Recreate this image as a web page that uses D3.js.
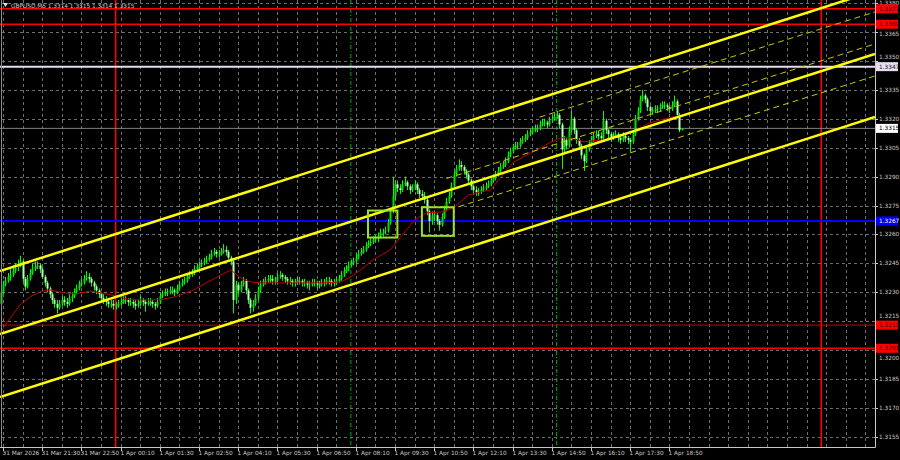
<!DOCTYPE html>
<html><head><meta charset="utf-8">
<script src="https://cdn.jsdelivr.net/npm/d3@7"></script>
<style>html,body{margin:0;padding:0;background:#000;}svg{display:block;}</style>
</head><body><svg id="c" width="900" height="460"></svg>
<script>
const symbolTitle = "GBPUSD,M5  1.3314 1.3315 1.3314 1.3315";
const firstBarTime = "2026-03-31 20:05";
const barMinutes = 5;
const firstOpen = 1.3224;
const closes = [1.3230,1.3234,1.3236,1.3238,1.3239,1.3241,1.3243,1.3244,1.3246,1.3237,
1.3233,1.3237,1.3240,1.3242,1.3243,1.3244,1.3242,1.3238,1.3235,1.3232,
1.3229,1.3226,1.3224,1.3222,1.3224,1.3226,1.3225,1.3224,1.3227,1.3228,
1.3230,1.3232,1.3234,1.3235,1.3237,1.3238,1.3237,1.3235,1.3233,1.3231,
1.3229,1.3227,1.3226,1.3225,1.3224,1.3224,1.3223,1.3223,1.3224,1.3225,
1.3226,1.3226,1.3225,1.3225,1.3224,1.3223,1.3224,1.3226,1.3225,1.3224,
1.3225,1.3225,1.3224,1.3223,1.3225,1.3228,1.3229,1.3230,1.3230,1.3231,
1.3231,1.3230,1.3232,1.3234,1.3235,1.3236,1.3238,1.3239,1.3240,1.3242,
1.3243,1.3244,1.3245,1.3246,1.3247,1.3248,1.3250,1.3251,1.3250,1.3250,
1.3251,1.3252,1.3251,1.3248,1.3246,1.3226,1.3234,1.3231,1.3234,1.3236,
1.3231,1.3226,1.3222,1.3224,1.3227,1.3231,1.3234,1.3235,1.3236,1.3237,
1.3237,1.3236,1.3236,1.3238,1.3239,1.3238,1.3237,1.3236,1.3236,1.3235,
1.3235,1.3236,1.3236,1.3235,1.3235,1.3234,1.3234,1.3235,1.3235,1.3234,
1.3234,1.3235,1.3235,1.3236,1.3236,1.3235,1.3235,1.3236,1.3237,1.3239,
1.3241,1.3242,1.3244,1.3245,1.3246,1.3248,1.3250,1.3251,1.3252,1.3254,
1.3255,1.3256,1.3257,1.3258,1.3259,1.3261,1.3261,1.3262,1.3266,1.3272,
1.3280,1.3286,1.3284,1.3283,1.3286,1.3287,1.3285,1.3283,1.3284,1.3286,
1.3283,1.3281,1.3280,1.3278,1.3272,1.3267,1.3270,1.3270,1.3267,1.3265,
1.3269,1.3273,1.3277,1.3280,1.3285,1.3291,1.3294,1.3296,1.3295,1.3293,
1.3291,1.3288,1.3285,1.3283,1.3282,1.3282,1.3283,1.3284,1.3285,1.3286,
1.3288,1.3289,1.3291,1.3293,1.3295,1.3296,1.3298,1.3301,1.3303,1.3305,
1.3306,1.3306,1.3308,1.3309,1.3310,1.3312,1.3313,1.3314,1.3315,1.3315,
1.3317,1.3318,1.3318,1.3317,1.3319,1.3320,1.3321,1.3322,1.3317,1.3304,
1.3309,1.3306,1.3314,1.3320,1.3314,1.3309,1.3306,1.3301,1.3298,1.3304,
1.3307,1.3309,1.3311,1.3312,1.3311,1.3310,1.3319,1.3314,1.3312,1.3310,
1.3311,1.3312,1.3310,1.3309,1.3311,1.3310,1.3309,1.3308,1.3312,1.3320,
1.3324,1.3330,1.3332,1.3330,1.3326,1.3324,1.3324,1.3325,1.3325,1.3326,
1.3327,1.3327,1.3326,1.3325,1.3327,1.3329,1.3322,1.3314,1.3315];
const highs = [1.3236,1.3236,1.3238,1.3240,1.3242,1.3244,1.3245,1.3247,1.3249,1.3247,
1.3238,1.3239,1.3242,1.3245,1.3246,1.3246,1.3245,1.3243,1.3239,1.3236,
1.3233,1.3230,1.3227,1.3226,1.3226,1.3228,1.3228,1.3227,1.3229,1.3230,
1.3232,1.3234,1.3236,1.3237,1.3239,1.3241,1.3240,1.3238,1.3236,1.3234,
1.3232,1.3230,1.3229,1.3228,1.3227,1.3226,1.3226,1.3225,1.3226,1.3227,
1.3228,1.3228,1.3227,1.3227,1.3226,1.3226,1.3226,1.3228,1.3227,1.3226,
1.3227,1.3227,1.3226,1.3225,1.3227,1.3230,1.3231,1.3232,1.3232,1.3233,
1.3233,1.3232,1.3234,1.3236,1.3237,1.3238,1.3240,1.3241,1.3242,1.3244,
1.3245,1.3246,1.3247,1.3248,1.3249,1.3250,1.3252,1.3253,1.3252,1.3252,
1.3253,1.3255,1.3254,1.3252,1.3249,1.3247,1.3236,1.3235,1.3236,1.3238,
1.3237,1.3232,1.3227,1.3226,1.3229,1.3233,1.3236,1.3237,1.3238,1.3239,
1.3239,1.3239,1.3238,1.3240,1.3241,1.3240,1.3239,1.3238,1.3238,1.3237,
1.3237,1.3238,1.3238,1.3237,1.3237,1.3236,1.3236,1.3237,1.3237,1.3236,
1.3236,1.3237,1.3237,1.3238,1.3238,1.3237,1.3237,1.3238,1.3239,1.3241,
1.3243,1.3244,1.3246,1.3247,1.3248,1.3250,1.3252,1.3253,1.3254,1.3256,
1.3257,1.3258,1.3259,1.3260,1.3261,1.3263,1.3263,1.3264,1.3268,1.3274,
1.3290,1.3288,1.3288,1.3286,1.3288,1.3290,1.3288,1.3286,1.3286,1.3288,
1.3287,1.3284,1.3283,1.3282,1.3279,1.3273,1.3272,1.3272,1.3271,1.3268,
1.3271,1.3275,1.3279,1.3282,1.3287,1.3293,1.3296,1.3299,1.3298,1.3296,
1.3294,1.3292,1.3289,1.3286,1.3285,1.3284,1.3285,1.3286,1.3287,1.3288,
1.3290,1.3291,1.3293,1.3295,1.3297,1.3298,1.3300,1.3303,1.3305,1.3307,
1.3308,1.3308,1.3310,1.3311,1.3312,1.3314,1.3315,1.3316,1.3317,1.3317,
1.3319,1.3320,1.3320,1.3319,1.3321,1.3322,1.3323,1.3324,1.3323,1.3318,
1.3311,1.3310,1.3316,1.3324,1.3321,1.3315,1.3310,1.3307,1.3302,1.3306,
1.3309,1.3311,1.3313,1.3314,1.3314,1.3313,1.3324,1.3320,1.3315,1.3313,
1.3313,1.3314,1.3313,1.3311,1.3313,1.3312,1.3311,1.3310,1.3314,1.3322,
1.3326,1.3332,1.3335,1.3333,1.3331,1.3327,1.3326,1.3327,1.3327,1.3328,
1.3329,1.3329,1.3328,1.3327,1.3329,1.3332,1.3330,1.3323,1.3315];
const lows = [1.3219,1.3229,1.3233,1.3235,1.3236,1.3238,1.3240,1.3241,1.3243,1.3235,
1.3231,1.3232,1.3236,1.3239,1.3241,1.3242,1.3240,1.3237,1.3233,1.3230,
1.3227,1.3224,1.3222,1.3219,1.3221,1.3223,1.3223,1.3222,1.3223,1.3225,
1.3227,1.3229,1.3231,1.3233,1.3234,1.3236,1.3235,1.3233,1.3231,1.3229,
1.3227,1.3225,1.3224,1.3223,1.3222,1.3222,1.3221,1.3221,1.3222,1.3223,
1.3224,1.3224,1.3223,1.3223,1.3222,1.3221,1.3222,1.3223,1.3223,1.3220,
1.3223,1.3223,1.3222,1.3221,1.3222,1.3224,1.3227,1.3228,1.3228,1.3229,
1.3229,1.3228,1.3229,1.3231,1.3233,1.3234,1.3235,1.3237,1.3238,1.3239,
1.3241,1.3242,1.3243,1.3244,1.3245,1.3246,1.3247,1.3249,1.3248,1.3248,
1.3249,1.3250,1.3249,1.3247,1.3244,1.3219,1.3224,1.3229,1.3230,1.3233,
1.3229,1.3224,1.3219,1.3220,1.3223,1.3226,1.3230,1.3233,1.3234,1.3235,
1.3235,1.3234,1.3234,1.3235,1.3237,1.3236,1.3235,1.3234,1.3234,1.3233,
1.3233,1.3234,1.3234,1.3233,1.3233,1.3232,1.3231,1.3233,1.3233,1.3232,
1.3232,1.3233,1.3233,1.3234,1.3234,1.3233,1.3233,1.3234,1.3235,1.3236,
1.3238,1.3240,1.3241,1.3243,1.3244,1.3245,1.3247,1.3249,1.3250,1.3251,
1.3253,1.3254,1.3255,1.3256,1.3256,1.3258,1.3259,1.3260,1.3261,1.3265,
1.3271,1.3278,1.3282,1.3281,1.3282,1.3285,1.3283,1.3281,1.3282,1.3283,
1.3281,1.3279,1.3278,1.3276,1.3270,1.3261,1.3265,1.3267,1.3265,1.3262,
1.3264,1.3268,1.3272,1.3276,1.3279,1.3284,1.3290,1.3293,1.3293,1.3291,
1.3289,1.3286,1.3283,1.3281,1.3280,1.3280,1.3281,1.3282,1.3283,1.3284,
1.3285,1.3287,1.3288,1.3290,1.3292,1.3294,1.3295,1.3297,1.3300,1.3302,
1.3304,1.3304,1.3305,1.3307,1.3308,1.3309,1.3311,1.3312,1.3313,1.3313,
1.3314,1.3316,1.3316,1.3315,1.3316,1.3318,1.3319,1.3320,1.3315,1.3294,
1.3302,1.3304,1.3305,1.3313,1.3312,1.3307,1.3304,1.3299,1.3293,1.3297,
1.3303,1.3306,1.3308,1.3310,1.3309,1.3308,1.3309,1.3312,1.3310,1.3308,
1.3309,1.3310,1.3308,1.3307,1.3308,1.3308,1.3307,1.3303,1.3307,1.3311,
1.3319,1.3323,1.3329,1.3328,1.3324,1.3322,1.3322,1.3323,1.3323,1.3324,
1.3325,1.3325,1.3324,1.3323,1.3324,1.3326,1.3321,1.3313,1.3314];

// moving average: bar number and value
const maBars = [0,4,8,12,16,20,24,29,33,37,41,47,53,59,65,71,78,84,90,94,98,102,106,114,122,131,139,143,147,152,159,163,169,174,180,185,191,196,200,204,209,214,219,224,229,233,238,245,250,258,265,271,278];
const maValues = [1.32095,1.32167,1.32235,1.32276,1.32302,1.32313,1.32302,1.32292,1.32297,1.32307,
1.32297,1.32281,1.32261,1.32261,1.32261,1.32276,1.32307,1.32349,1.32390,1.32416,
1.32375,1.32354,1.32349,1.32349,1.32349,1.32349,1.32354,1.32380,1.32416,1.32468,
1.32520,1.32582,1.32675,1.32712,1.32717,1.32738,1.32805,1.32821,1.32831,1.32893,
1.32971,1.33007,1.33038,1.33075,1.33101,1.33101,1.33080,1.33090,1.33101,1.33132,
1.33178,1.33199,1.33219];

const priceTicks = [1.3155,1.3170,1.3185,1.3200,1.3215,1.3230,1.3245,1.3260,1.3275,1.3290,1.3305,1.3320,1.3335,1.3350,1.3365,1.3380];
const timeTickTimes = ["2026-03-31 20:10","2026-03-31 21:30","2026-03-31 22:50","2026-04-01 00:10","2026-04-01 01:30","2026-04-01 02:50","2026-04-01 04:10","2026-04-01 05:30","2026-04-01 06:50","2026-04-01 08:10","2026-04-01 09:30","2026-04-01 10:50","2026-04-01 12:10","2026-04-01 13:30","2026-04-01 14:50","2026-04-01 16:10","2026-04-01 17:30","2026-04-01 18:50"];
const timeTickLabels = ["31 Mar 2026","31 Mar 21:30","31 Mar 22:50","1 Apr 00:10","1 Apr 01:30","1 Apr 02:50","1 Apr 04:10","1 Apr 05:30","1 Apr 06:50","1 Apr 08:10","1 Apr 09:30","1 Apr 10:50","1 Apr 12:10","1 Apr 13:30","1 Apr 14:50","1 Apr 16:10","1 Apr 17:30","1 Apr 18:50"];

const levelPrices = [1.3377,1.3369,1.3347,1.3315,1.3267,1.3213,1.3201];
const dayBreaks = ["2026-04-01 00:00","2026-04-02 00:00"];
const sessionOpens = ["2026-04-01 08:00","2026-04-01 15:00"];

// trend channel (two anchor points each)
const channelTimes = ["2026-03-31 20:05","2026-04-02 01:50"];
const channelUpper = [1.32411,1.33863];
const channelMiddle = [1.32085,1.33536];
const channelLower = [1.31758,1.33209];
// dashed channel lines: start time, start price, end price (end time shared)
const regEndTime = "2026-04-02 01:50";
const regStartTimes = ["2026-04-01 14:25","2026-04-01 11:15","2026-04-01 11:40"];
const regStartPrices = [1.33208,1.32890,1.32744];
const regEndPrices = [1.33754,1.33588,1.33422];

// highlight boxes
const boxStarts = ["2026-04-01 08:35","2026-04-01 10:25"];
const boxEnds = ["2026-04-01 09:35","2026-04-01 11:30"];
const boxTops = [1.32724,1.32741];
const boxBottoms = [1.32584,1.32593];

// ---------- drawing ----------
const W = 900, H = 460;
const plotRight = 875, plotBottom = 447;
const parse = d3.timeParse("%Y-%m-%d %H:%M");
const t0 = parse(firstBarTime);
const barTime = i => d3.timeMinute.offset(t0, i * barMinutes);
const barPx = 2.45;
const x = d3.scaleTime().domain([t0, barTime(335)]).range([0.5, 0.5 + 335 * barPx]);
const y = d3.scaleLinear().domain([1.3155, 1.3380]).range([437, 3]);

const svg = d3.select("#c");
svg.append("rect").attr("width", W).attr("height", H).attr("fill", "#000");
svg.append("defs").append("clipPath").attr("id", "plot")
  .append("rect").attr("x", 0).attr("y", 0).attr("width", plotRight).attr("height", plotBottom);

const font = "Tahoma, 'DejaVu Sans', sans-serif";
const textColor = "#c8c8c8";
const fs = 5.8;

// grid
const grid = svg.append("g").attr("stroke", "#6e6e6e").attr("stroke-width", 1).attr("stroke-dasharray", "3,3");
priceTicks.forEach(p => {
  const yy = Math.round(y(p)) + 0.5;
  grid.append("line").attr("x1", 2).attr("x2", plotRight).attr("y1", yy).attr("y2", yy);
});
const gridTimes = d3.range(0, 60).map(k => barTime(1 + 8 * k)).filter(t => x(t) < plotRight);
gridTimes.forEach(t => {
  const xx = Math.round(x(t)) + 0.5;
  grid.append("line").attr("x1", xx).attr("x2", xx).attr("y1", 0).attr("y2", plotBottom);
});

const plot = svg.append("g").attr("clip-path", "url(#plot)");

// vertical markers
dayBreaks.forEach(s => {
  const xx = x(parse(s));
  plot.append("line").attr("x1", xx).attr("x2", xx).attr("y1", 0).attr("y2", plotBottom)
    .attr("stroke", "#ff0000").attr("stroke-width", 1.6);
});
sessionOpens.forEach(s => {
  const xx = x(parse(s));
  plot.append("line").attr("x1", xx).attr("x2", xx).attr("y1", 0).attr("y2", plotBottom)
    .attr("stroke", "#00b000").attr("stroke-width", 1).attr("stroke-dasharray", "4,2,1,2");
});

// horizontal levels
const levelStyles = [
  {c:"#ff0000", w:1.5, bg:"#ff0000", fg:"#400000"},
  {c:"#ff0000", w:1.5, bg:"#ff0000", fg:"#400000"},
  {c:"#e8dcf0", w:2, bg:"#e8dcf0", fg:"#202020"},
  {c:"#808080", w:1, bg:"#ffffff", fg:"#000000"},
  {c:"#0000ff", w:2, bg:"#0000ff", fg:"#ffffff"},
  {c:"#c00000", w:1, bg:"#ff0000", fg:"#400000"},
  {c:"#ff0000", w:1.5, bg:"#ff0000", fg:"#400000"}
];
levelPrices.forEach((p, i) => {
  const yy = y(p);
  plot.append("line").attr("x1", 0).attr("x2", plotRight).attr("y1", yy).attr("y2", yy)
    .attr("stroke", levelStyles[i].c).attr("stroke-width", levelStyles[i].w);
});

// candles
const candles = plot.append("g");
closes.forEach((c, i) => {
  const o = i === 0 ? firstOpen : closes[i - 1];
  const xx = Math.round(x(barTime(i)));
  candles.append("line").attr("x1", xx + 0.5).attr("x2", xx + 0.5)
    .attr("y1", y(highs[i])).attr("y2", y(lows[i]))
    .attr("stroke", "#00ff00").attr("stroke-width", 1);
  const top = y(Math.max(o, c)), bot = y(Math.min(o, c));
  candles.append("rect").attr("x", xx - 0.5).attr("width", 2)
    .attr("y", top).attr("height", Math.max(1, bot - top))
    .attr("fill", c >= o ? "#00e000" : "#b8ffb8");
});

// moving average
plot.append("path")
  .datum(maBars.map((b, i) => [barTime(b), maValues[i]]))
  .attr("fill", "none").attr("stroke", "#c00000").attr("stroke-width", 1)
  .attr("d", d3.line().x(d => x(d[0])).y(d => y(d[1])));

// channels
const lineThrough = (t0s, t1s, v0, v1, fromX, toX) => {
  const x0 = x(parse(t0s)), x1 = x(parse(t1s));
  const y0 = y(v0), y1 = y(v1);
  const k = (y1 - y0) / (x1 - x0);
  return [fromX, y0 + k * (fromX - x0), toX, y0 + k * (toX - x0)];
};
[channelUpper, channelMiddle, channelLower].forEach(v => {
  const r = lineThrough(channelTimes[0], channelTimes[1], v[0], v[1], 0, plotRight);
  plot.append("line").attr("x1", r[0]).attr("y1", r[1]).attr("x2", r[2]).attr("y2", r[3])
    .attr("stroke", "#ffff00").attr("stroke-width", 2.5);
});
regStartTimes.forEach((s, i) => {
  const r = lineThrough(s, regEndTime, regStartPrices[i], regEndPrices[i], x(parse(s)), plotRight);
  plot.append("line").attr("x1", r[0]).attr("y1", r[1]).attr("x2", r[2]).attr("y2", r[3])
    .attr("stroke", "#c8c800").attr("stroke-width", 1).attr("stroke-dasharray", "6,4");
});

// highlight boxes
boxStarts.forEach((s, i) => {
  const x0 = x(parse(s)), x1 = x(parse(boxEnds[i]));
  plot.append("rect").attr("x", x0).attr("y", y(boxTops[i]))
    .attr("width", x1 - x0).attr("height", y(boxBottoms[i]) - y(boxTops[i]))
    .attr("fill", "none").attr("stroke", "#9ae22a").attr("stroke-width", 2);
});

// frame
svg.append("line").attr("x1", plotRight + 0.5).attr("x2", plotRight + 0.5).attr("y1", 0).attr("y2", plotBottom + 0.5)
  .attr("stroke", "#c8c8c8");
svg.append("line").attr("x1", 0).attr("x2", plotRight + 0.5).attr("y1", plotBottom + 0.5).attr("y2", plotBottom + 0.5)
  .attr("stroke", "#c8c8c8");
svg.append("line").attr("x1", 1.5).attr("x2", 1.5).attr("y1", 0).attr("y2", plotBottom)
  .attr("stroke", "#8a8a8a");

// price axis labels (shifted away from level boxes, like the terminal does)
const levelYs = levelPrices.map(p => y(p));
const pa = svg.append("g").attr("font-family", font).attr("font-size", fs).attr("fill", textColor);
priceTicks.forEach(p => {
  const yy = y(p);
  svg.append("line").attr("x1", plotRight).attr("x2", plotRight + 3).attr("y1", Math.round(yy) + 0.5).attr("y2", Math.round(yy) + 0.5).attr("stroke", "#c8c8c8");
  let ly = yy;
  levelYs.forEach(L => {
    if (Math.abs(L - yy) < 9 && yy > 12) ly = L < yy ? L + 9.5 : L - 9.5;
  });
  pa.append("text").attr("x", 879).attr("y", ly).attr("dy", "0.35em").text(d3.format(".4f")(p));
});
// level label boxes
levelPrices.forEach((p, i) => {
  const yy = y(p);
  svg.append("rect").attr("x", 876).attr("y", yy - 4.5).attr("width", 22).attr("height", 9)
    .attr("fill", levelStyles[i].bg);
  svg.append("text").attr("x", 879).attr("y", yy).attr("dy", "0.35em")
    .attr("font-family", font).attr("font-size", fs).attr("fill", levelStyles[i].fg)
    .text(d3.format(".4f")(p));
});

// time axis
const ta = svg.append("g").attr("font-family", font).attr("font-size", fs).attr("fill", textColor);
timeTickTimes.forEach((s, i) => {
  const xx = Math.round(x(parse(s))) + 0.5;
  svg.append("line").attr("x1", xx).attr("x2", xx).attr("y1", plotBottom).attr("y2", plotBottom + 4).attr("stroke", "#c8c8c8");
  ta.append("text").attr("x", xx - 1).attr("y", 455).text(timeTickLabels[i]);
});

// title
svg.append("path").attr("d", "M3,3 L8,3 L5.5,7 Z").attr("fill", "#e0e0e0");
svg.append("text").attr("x", 11).attr("y", 7.5).attr("font-family", font).attr("font-size", fs)
  .attr("fill", textColor).text(symbolTitle);
</script></body></html>
